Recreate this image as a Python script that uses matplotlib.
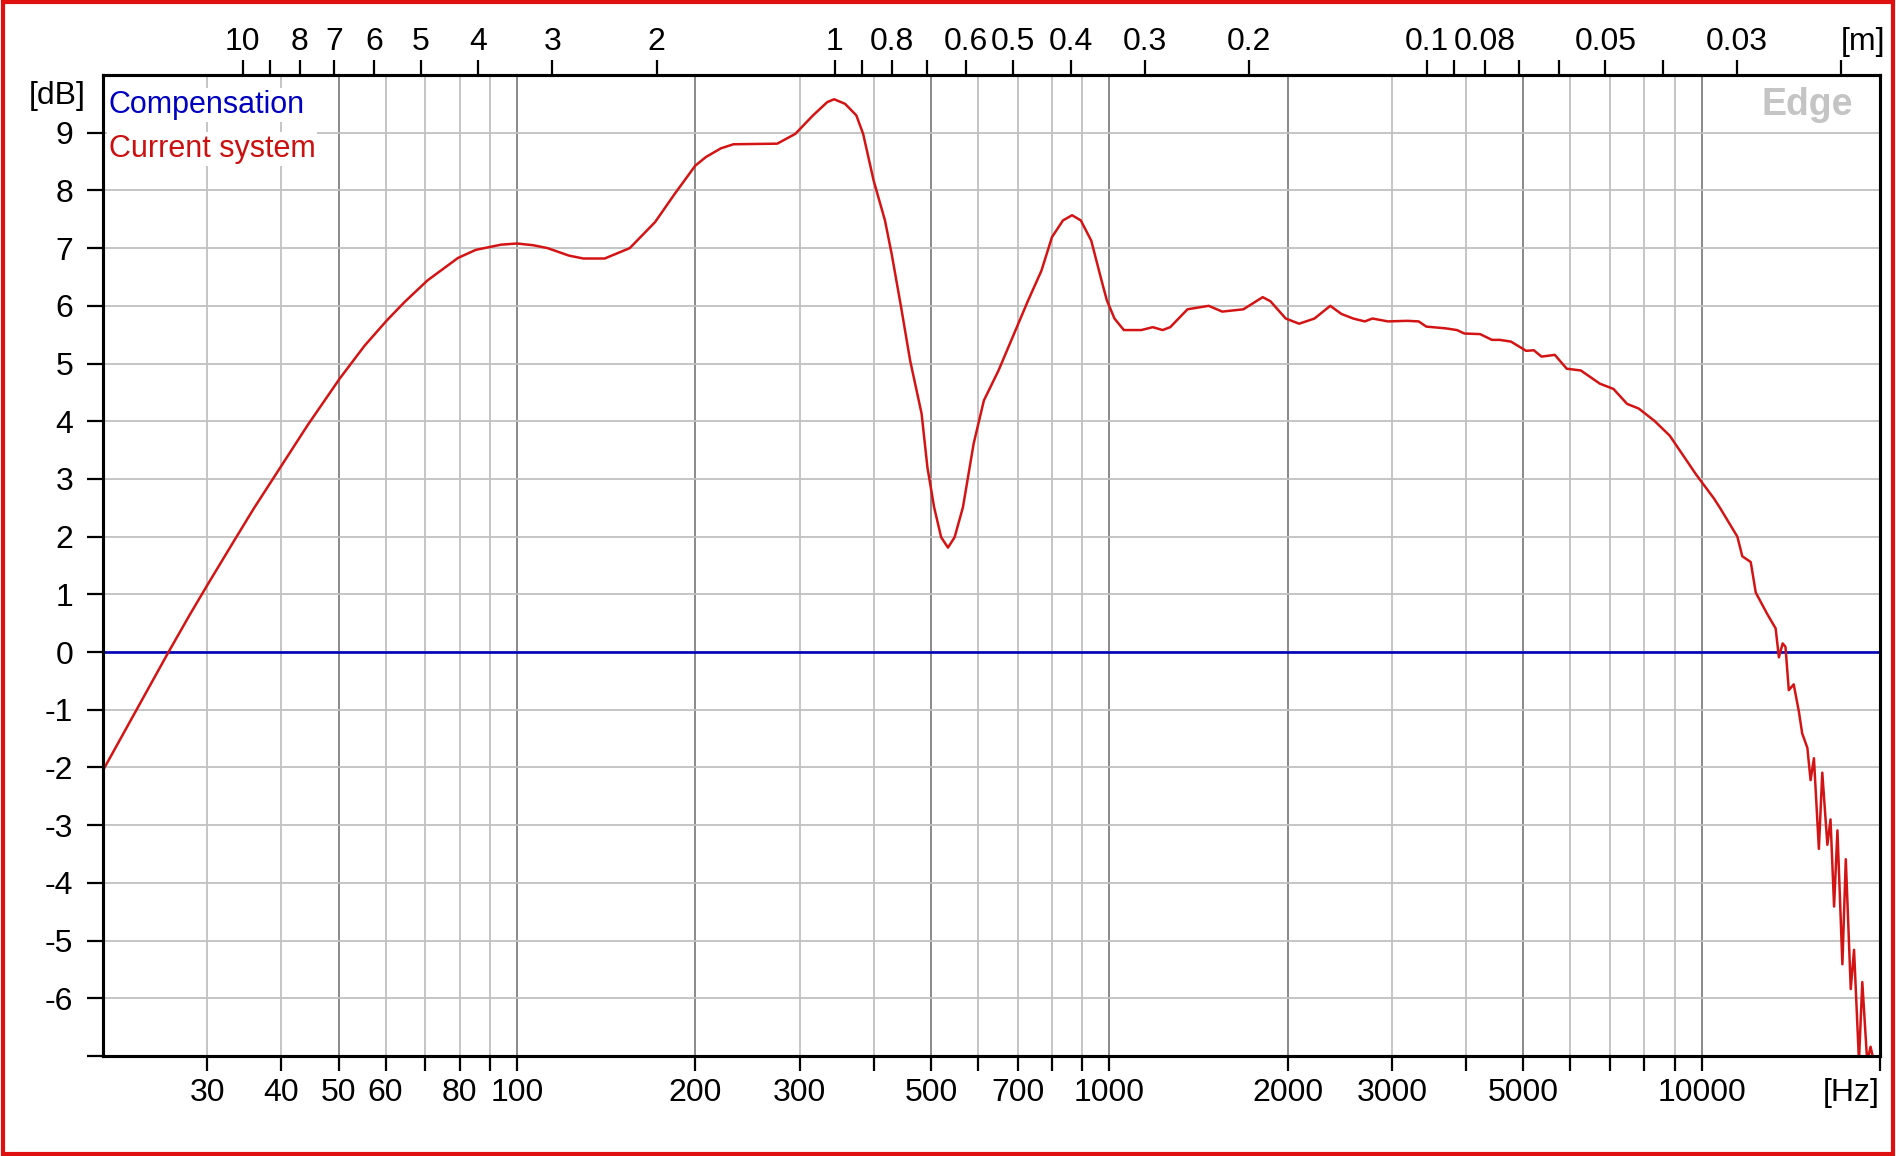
import matplotlib
matplotlib.use("Agg")
import matplotlib.pyplot as plt
from matplotlib.patches import Rectangle
import matplotlib.transforms as mtransforms

plt.rcParams['font.family'] = ['Liberation Sans Narrow', 'Liberation Sans', 'DejaVu Sans']

# measured response of the current system (Hz, dB)
freq_hz = [20, 22.7, 25.8, 28.0, 30.0, 33.3, 35.9, 40.2, 44.3, 50.2, 55.3, 60.2,
           64.5, 70.6, 79.5, 85.2, 94.0, 100, 106.5, 112.6, 122.4, 129.4, 140.6,
           155, 171, 184.6, 200, 208.5, 221, 232, 275, 295, 316, 334, 343, 358,
           374, 384, 400, 418, 429, 445, 461, 482, 493, 506, 520, 534, 548, 566,
           590, 614, 650, 690, 729, 768, 800, 835, 865, 895, 932, 970, 990, 1020,
           1058, 1132, 1184, 1230, 1267, 1355, 1471, 1551, 1684, 1815, 1870, 1985,
           2091, 2220, 2360, 2464, 2580, 2699, 2781, 2953, 3182, 3328, 3428,
           3694, 3862, 3976, 4226, 4424, 4560, 4765, 5054, 5207, 5365, 5650,
           5918, 6250, 6734, 7096, 7484, 7829, 8315, 8832, 9780, 10490, 10750,
           11487, 11710, 12100, 12340, 12900, 13330, 13500, 13700, 13850, 14030,
           14300, 14590, 14780, 15080, 15270, 15470, 15770, 15980, 16300, 16500,
           16730, 16950, 17280, 17510, 17850, 18080, 18430, 18670, 19030, 19280,
           19530]
level_db = [-2.05, -1.03, 0.0, 0.64, 1.16, 1.93, 2.48, 3.26, 3.93, 4.74, 5.31, 5.74,
            6.06, 6.44, 6.83, 6.97, 7.06, 7.08, 7.05, 7.00, 6.87, 6.82, 6.82,
            7.00, 7.45, 7.94, 8.43, 8.58, 8.73, 8.80, 8.81, 8.98, 9.30, 9.53,
            9.58, 9.50, 9.30, 8.98, 8.17, 7.48, 6.90, 5.98, 5.05, 4.13, 3.20, 2.51,
            1.99, 1.81, 1.99, 2.51, 3.61, 4.36, 4.88, 5.51, 6.09, 6.61, 7.19, 7.48,
            7.57, 7.48, 7.13, 6.44, 6.10, 5.78, 5.58, 5.58, 5.63, 5.58, 5.63, 5.94,
            6.00, 5.90, 5.94, 6.15, 6.08, 5.78, 5.69, 5.78, 6.00, 5.86, 5.78, 5.73,
            5.78, 5.73, 5.74, 5.73, 5.64, 5.61, 5.58, 5.52, 5.51, 5.41, 5.41, 5.38,
            5.22, 5.23, 5.12, 5.15, 4.91, 4.88, 4.65, 4.56, 4.30, 4.22, 4.01, 3.75,
            3.08, 2.66, 2.49, 2.00, 1.66, 1.56, 1.03, 0.66, 0.41, -0.09, 0.15, 0.09,
            -0.66, -0.56, -1.03, -1.41, -1.66, -2.22, -1.84, -3.41, -2.09, -3.34,
            -2.90, -4.41, -3.09, -5.41, -3.59, -5.84, -5.16, -7.09, -5.72, -7.10,
            -6.84, -7.10]

comp_freq_hz = [20, 20000]
comp_db = [0, 0]

y_ticks = list(range(-7, 10))
y_labels = [''] + [str(v) for v in range(-6, 10)]

hz_major = [30, 40, 50, 60, 80, 100, 200, 300, 500, 700, 1000, 2000, 3000, 5000, 10000]
hz_minor = [70, 90, 400, 600, 800, 900, 4000, 6000, 7000, 8000, 9000, 20000]
m_major = [10, 8, 7, 6, 5, 4, 3, 2, 1, 0.8, 0.6, 0.5, 0.4, 0.3, 0.2, 0.1, 0.08, 0.05, 0.03]
m_labels = ['10', '8', '7', '6', '5', '4', '3', '2', '1', '0.8', '0.6', '0.5', '0.4',
            '0.3', '0.2', '0.1', '0.08', '0.05', '0.03']
m_minor = [9, 0.9, 0.7, 0.09, 0.07, 0.06, 0.04, 0.02]
grid_dark = [50, 100, 200, 500, 1000, 2000, 5000, 10000]
grid_light = [30, 40, 60, 70, 80, 90, 300, 400, 600, 700, 800, 900,
              3000, 4000, 6000, 7000, 8000, 9000]
c_sound = 344.0

W, H = 1896, 1156
fs = 23
fig = plt.figure(figsize=(W / 100, H / 100), dpi=100)
fig.patch.set_facecolor('white')
ax = fig.add_axes([103 / W, 1 - 1056 / H, (1880 - 103) / W, (1056 - 75) / H])

ax.set_xscale('log')
ax.set_xlim(20, 20000)
ax.set_ylim(-7, 10)

for f in grid_light:
    ax.axvline(f, color='#c0c0c0', lw=1.3, zorder=1)
for f in grid_dark:
    ax.axvline(f, color='#808080', lw=1.3, zorder=1)
for v in range(-6, 10):
    ax.axhline(v, color='#c0c0c0', lw=1.3, zorder=1)

ax.plot(comp_freq_hz, comp_db, color='#0000b8', lw=1.9, zorder=3)
ax.plot(freq_hz, level_db, color='#d41414', lw=1.8, zorder=4)

ax.set_xticks(hz_major)
ax.set_xticklabels([str(f) for f in hz_major])
ax.set_xticks(hz_minor, minor=True)
ax.set_xticklabels([''] * len(hz_minor), minor=True)
ax.set_yticks(y_ticks)
ax.set_yticklabels(y_labels)
ax.tick_params(axis='x', which='both', direction='out', length=11, width=1.6,
               pad=5, labelsize=fs, colors='black')
ax.tick_params(axis='y', which='both', direction='out', length=11.5, width=1.6,
               pad=10, labelsize=fs)
for s in ax.spines.values():
    s.set_linewidth(2.2)

ax2 = ax.twiny()
ax2.set_xscale('log')
ax2.set_xlim(20, 20000)
ax2.set_xticks([c_sound / m for m in m_major])
ax2.set_xticklabels(m_labels)
ax2.set_xticks([c_sound / m for m in m_minor], minor=True)
ax2.set_xticklabels([''] * len(m_minor), minor=True)
ax2.tick_params(axis='x', which='both', direction='out', length=11, width=1.6,
                pad=2, labelsize=fs)
for s in ax2.spines.values():
    s.set_linewidth(2.2)

trans = mtransforms.blended_transform_factory(ax.transData, fig.transFigure)
ax.text(c_sound / 0.02, 1 - 42 / H, '[m]', transform=trans, ha='left', va='center',
        fontsize=fs)
ax.text(20000, 1 - 1093 / H, '[Hz]', transform=trans, ha='right', va='center',
        fontsize=fs)
fig.text(86 / W, 1 - 96 / H, '[dB]', ha='right', va='center', fontsize=fs)

fig.text(109 / W, 1 - 113 / H, 'Compensation', color='#0000c0', fontsize=22,
         family=['Liberation Sans', 'DejaVu Sans'], va='baseline', ha='left',
         bbox=dict(facecolor='white', edgecolor='none', pad=1), zorder=5)
fig.text(109 / W, 1 - 157 / H, 'Current system', color='#cc1010', fontsize=22,
         family=['Liberation Sans', 'DejaVu Sans'], va='baseline', ha='left',
         bbox=dict(facecolor='white', edgecolor='none', pad=1), zorder=5)
fig.text(1853 / W, 1 - 115 / H, 'Edge', color='#c4c4c4', fontsize=27,
         fontweight='bold', family=['Liberation Sans', 'DejaVu Sans'],
         va='baseline', ha='right')

fig.patches.append(Rectangle((0.0015, 0.0015), 0.997, 0.997, transform=fig.transFigure,
                             fill=False, edgecolor='#e01010', lw=3))

fig.savefig('out.png', dpi=100, facecolor='white')
